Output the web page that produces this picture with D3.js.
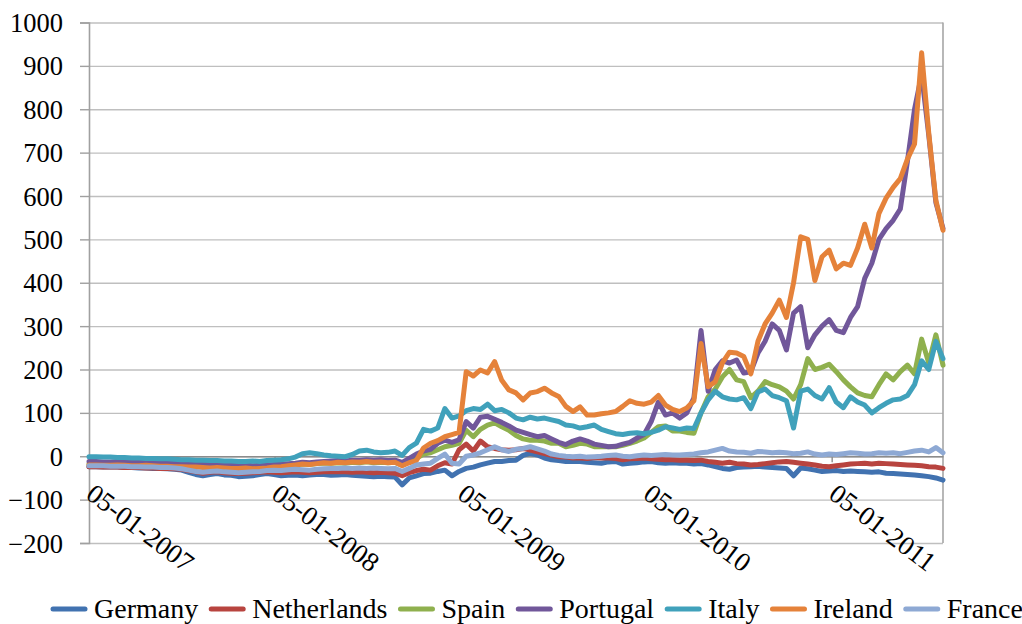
<!DOCTYPE html>
<html>
<head>
<meta charset="utf-8">
<style>
  body { margin: 0; background: #fff; }
  svg { display: block; }
  text { font-family: "Liberation Serif", serif; fill: #000; }
</style>
</head>
<body>
<svg id="chart" width="1022" height="624"></svg>
<script src="https://cdnjs.cloudflare.com/ajax/libs/d3/7.8.5/d3.min.js"></script>
<script>
// sampling of the daily series: one value every 14 days from 05-01-2007
var startDate = "2007-01-05"
var stepDays = 14

var countries = ["Germany", "Netherlands", "Spain", "Portugal", "Italy", "Ireland", "France"]
var colors = ["#4172b0", "#b8443f", "#8fb04e", "#71579a", "#40a1bb", "#e5823a", "#8ea9d4"]

var yTicks = [-200, -100, 0, 100, 200, 300, 400, 500, 600, 700, 800, 900, 1000]
var xTickDates = ["2007-01-05", "2008-01-05", "2009-01-05", "2010-01-05", "2011-01-05"]

var germany = [
  -24,-24,-25,-25,-25,-26,-26,-27,-27,-28,
  -28,-29,-30,-32,-37,-42,-45,-42,-40,-43,
  -44,-47,-46,-45,-42,-40,-42,-45,-44,-43,
  -45,-43,-42,-42,-44,-43,-42,-44,-45,-46,
  -47,-46,-47,-48,-66,-50,-45,-40,-39,-35,
  -32,-45,-35,-28,-25,-20,-16,-12,-12,-10,
  -9,2,7,3,-4,-8,-10,-12,-12,-12,
  -14,-15,-16,-13,-12,-18,-16,-15,-13,-12,
  -15,-16,-15,-16,-16,-18,-17,-20,-24,-28,
  -30,-26,-25,-24,-23,-25,-26,-27,-28,-45,
  -27,-29,-32,-35,-34,-33,-35,-34,-35,-36,
  -37,-36,-39,-40,-41,-42,-43,-45,-47,-50,
  -55]
var netherlands = [
  -24,-24,-25,-25,-25,-26,-26,-26,-27,-27,
  -28,-28,-29,-30,-33,-36,-39,-37,-36,-38,
  -39,-40,-39,-38,-37,-36,-37,-38,-37,-36,
  -37,-38,-37,-36,-36,-35,-36,-37,-36,-37,
  -38,-37,-38,-39,-45,-38,-33,-30,-32,-22,
  -15,-18,15,28,12,35,22,18,15,14,
  15,18,14,10,6,2,-1,-2,-4,-4,
  -5,-3,-4,-4,-5,-8,-6,-5,-4,-6,
  -7,-8,-8,-9,-9,-10,-9,-12,-14,-16,
  -14,-17,-18,-20,-19,-17,-15,-13,-12,-14,
  -16,-18,-20,-23,-24,-22,-20,-18,-17,-16,
  -18,-16,-17,-18,-19,-20,-21,-22,-24,-25,
  -28]
var spain = [
  -18,-18,-19,-19,-18,-19,-20,-20,-19,-20,
  -21,-21,-22,-22,-23,-23,-24,-25,-24,-25,
  -26,-27,-26,-27,-27,-26,-24,-23,-21,-20,
  -18,-19,-17,-16,-16,-15,-16,-14,-15,-13,
  -15,-14,-15,-14,-20,-12,-5,5,8,15,
  22,25,30,60,45,62,72,77,68,60,
  48,40,37,37,35,30,30,22,25,30,
  28,22,22,22,22,25,30,35,42,55,
  68,70,58,58,55,53,100,137,155,183,
  200,176,172,135,150,172,165,160,150,132,
  165,225,200,205,212,195,176,160,146,140,
  137,165,190,176,195,210,190,270,215,280,
  210]
var portugal = [
  -12,-12,-13,-13,-12,-13,-14,-14,-13,-14,
  -15,-15,-16,-16,-17,-17,-18,-19,-18,-19,
  -20,-21,-20,-22,-21,-20,-19,-18,-17,-16,
  -14,-15,-13,-12,-11,-10,-11,-9,-10,-8,
  -9,-8,-10,-9,-14,-5,5,12,16,30,
  37,32,38,80,65,90,92,85,78,70,
  60,55,50,45,48,40,32,27,35,40,
  35,28,25,22,23,28,32,42,50,80,
  125,95,100,88,100,135,290,150,200,220,
  215,222,192,195,238,265,305,290,245,330,
  345,250,280,300,315,290,285,320,345,410,
  445,500,525,544,570,680,800,880,740,585,
  525]
var italy = [
  -1,-1,-2,-2,-3,-3,-4,-4,-5,-5,
  -6,-6,-7,-8,-8,-9,-9,-10,-10,-11,
  -11,-12,-12,-11,-12,-10,-9,-8,-6,-2,
  6,8,6,3,1,0,-1,4,12,14,
  10,8,9,12,2,20,30,62,58,65,
  110,88,93,105,110,108,120,105,108,100,
  88,84,90,86,88,84,80,72,70,65,
  68,72,62,57,52,50,53,54,52,55,
  60,68,65,62,65,64,100,130,150,137,
  132,130,135,110,148,155,140,135,128,65,
  150,155,140,132,158,125,112,137,125,118,
  100,112,122,130,132,140,165,220,200,265,
  225]
var ireland = [
  -20,-20,-21,-21,-20,-21,-22,-22,-21,-22,
  -23,-23,-24,-24,-25,-25,-26,-27,-26,-27,
  -28,-28,-27,-29,-28,-27,-25,-24,-22,-20,
  -18,-19,-17,-15,-16,-14,-15,-13,-14,-12,
  -14,-13,-15,-14,-22,-15,-10,19,30,36,
  45,50,55,195,185,199,192,218,175,153,
  146,130,146,149,157,146,138,115,103,114,
  95,95,98,100,103,115,128,122,120,125,
  140,118,108,103,111,128,260,160,172,215,
  240,238,230,190,265,305,330,360,320,400,
  506,500,405,460,475,432,445,440,480,535,
  480,560,595,620,640,685,720,930,745,590,
  521]
var france = [
  -22,-22,-22,-23,-23,-23,-24,-24,-25,-25,
  -26,-26,-27,-29,-32,-35,-37,-35,-34,-36,
  -37,-38,-37,-36,-35,-33,-32,-33,-31,-30,
  -31,-32,-30,-29,-28,-28,-27,-28,-27,-28,
  -27,-28,-29,-28,-35,-28,-20,-18,-16,-5,
  5,-16,-18,0,3,8,15,22,15,11,
  16,18,22,17,12,5,2,0,-1,0,
  -2,-1,0,2,3,0,-1,1,3,2,
  3,4,3,3,4,5,8,10,14,18,
  12,10,9,7,11,10,8,9,8,6,
  7,10,5,3,5,4,6,8,7,5,
  6,8,7,8,6,9,12,14,10,20,
  8]

var seriesValues = [germany, netherlands, spain, portugal, italy, ireland, france]

var svg = d3.select("#chart")
var plot = {left: 89, right: 943, top: 22.5, bottom: 543}
var serif = "'Liberation Serif', serif"

var parse = d3.timeParse("%Y-%m-%d")
var start = parse(startDate)
var dates = d3.range(germany.length).map(function(i) { return d3.timeDay.offset(start, i * stepDays) })

var x = d3.scaleTime().domain([dates[0], dates[dates.length - 1]]).range([plot.left, plot.right])
var y = d3.scaleLinear().domain([-200, 1000]).range([plot.bottom, plot.top])

// gridlines
svg.append("g")
  .attr("transform", "translate(" + plot.left + ",0)")
  .call(d3.axisLeft(y).tickValues(yTicks).tickSize(-(plot.right - plot.left)).tickFormat(""))
  .call(function(g) { g.select(".domain").remove() })
  .selectAll("line").attr("stroke", "#bfbfbf").attr("stroke-width", 1.4)

// right border of plot area
svg.append("line")
  .attr("x1", plot.right).attr("x2", plot.right)
  .attr("y1", plot.top).attr("y2", plot.bottom)
  .attr("stroke", "#a6a6a6").attr("stroke-width", 1.6)

// y axis
var yAxis = svg.append("g")
  .attr("transform", "translate(" + plot.left + ",0)")
  .call(d3.axisLeft(y).tickValues(yTicks).tickSize(9).tickPadding(17).tickFormat(d3.format("d")))
yAxis.attr("font-family", serif).attr("font-size", 26.5)
yAxis.select(".domain").attr("stroke", "#a0a0a0").attr("stroke-width", 1.6)
yAxis.selectAll("line").attr("stroke", "#a0a0a0").attr("stroke-width", 1.4)
yAxis.selectAll("text").attr("dy", "0.34em")

// x axis at zero
var xAxis = svg.append("g")
  .attr("transform", "translate(0," + y(0) + ")")
  .call(d3.axisBottom(x)
    .tickValues(xTickDates.map(parse))
    .tickSize(6)
    .tickSizeOuter(0)
    .tickFormat(d3.timeFormat("%d-%m-%Y")))
xAxis.attr("font-family", serif).attr("font-size", 27)
xAxis.select(".domain").attr("stroke", "#8c8c8c").attr("stroke-width", 1.6)
xAxis.selectAll("line").attr("stroke", "#8c8c8c").attr("stroke-width", 1.4)
xAxis.selectAll("text")
  .attr("text-anchor", "start")
  .attr("x", 0).attr("y", 0).attr("dy", 0)
  .attr("transform", "translate(-5,41) rotate(37)")

// series lines
var line = d3.line()
  .x(function(d, i) { return x(dates[i]) })
  .y(function(d) { return y(d) })

svg.append("g").selectAll("path")
  .data(seriesValues)
  .enter()
  .append("path")
  .attr("d", line)
  .attr("fill", "none")
  .attr("stroke", function(d, i) { return colors[i] })
  .attr("stroke-width", 5)
  .attr("stroke-linejoin", "round")
  .attr("stroke-linecap", "round")

// legend
var legend = svg.append("g").attr("font-family", serif).attr("font-size", 28)
var lx = 53
countries.forEach(function(name, i) {
  legend.append("line")
    .attr("x1", lx).attr("x2", lx + 32)
    .attr("y1", 609).attr("y2", 609)
    .attr("stroke", colors[i]).attr("stroke-width", 5)
    .attr("stroke-linecap", "round")
  var t = legend.append("text")
    .attr("x", lx + 41).attr("y", 618)
    .text(name)
  lx += 41 + t.node().getComputedTextLength() + 13
})
</script>
</body>
</html>
